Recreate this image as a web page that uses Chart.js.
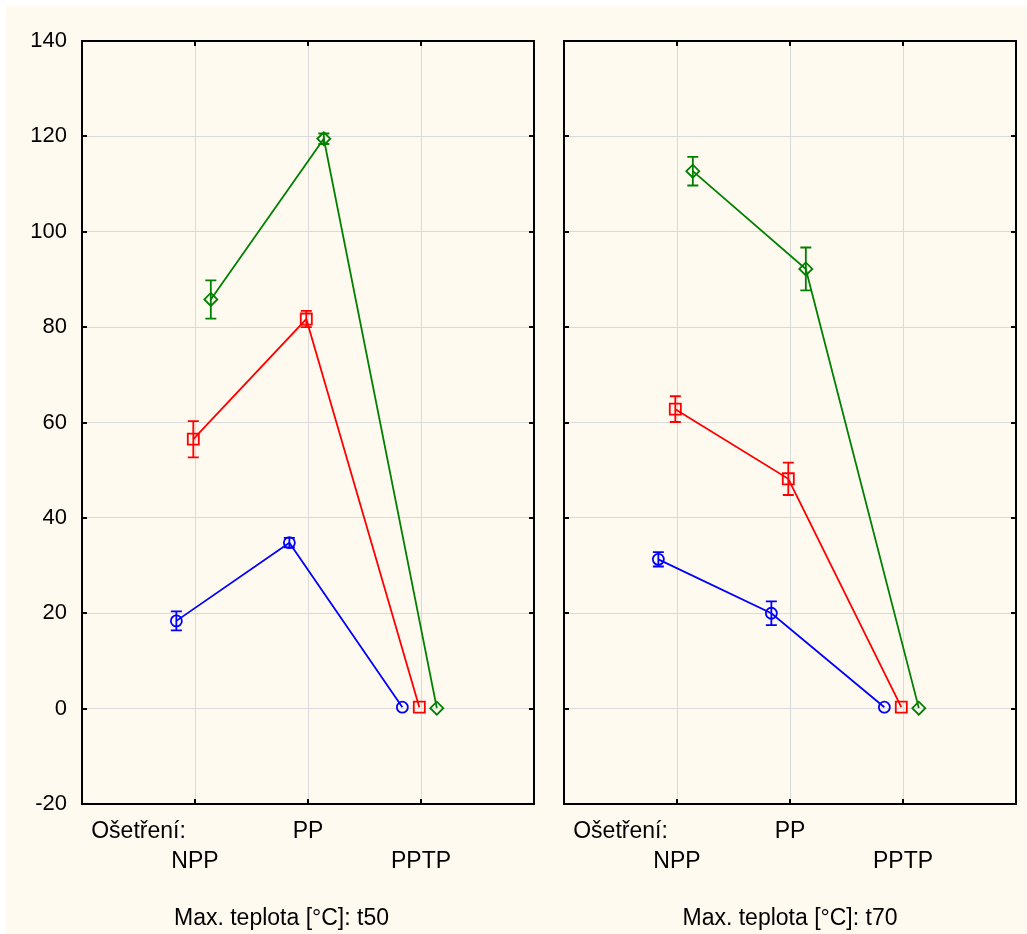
<!DOCTYPE html>
<html lang="cs">
<head>
  <meta charset="UTF-8" />
  <title>Max. teplota – Ošetření</title>
  <script src="https://cdn.jsdelivr.net/npm/chart.js"></script>
  <style>
    html, body { margin: 0; padding: 0; background: #fff; }
    #wrap { position: relative; width: 1027px; height: 934px; overflow: hidden; }
    #bg { position: absolute; left: 6px; top: 6px; right: 0; bottom: 0; background: #fffaf0; }
    canvas { position: absolute; top: 0; }
    #chartT50 { left: 0; }
    #chartT70 { left: 522px; }
  </style>
</head>
<body>
  <div id="wrap">
    <div id="bg"></div>
    <canvas id="chartT50" width="562" height="934"></canvas>
    <canvas id="chartT70" width="505" height="934"></canvas>
  </div>

  <script>
    // categories on the x axis (Ošetření) and y ticks
    const categories = ['NPP', 'PP', 'PPTP'];
    const yMin = -20, yMax = 140, yStep = 20;

    // Max. teplota t50 : means and half-length of the error bars
    const t50Blue = [18.4, 34.8, 0.3];
    const t50BlueErr = [2.0, 1.0, 0];
    const t50Red = [56.5, 81.7, 0.3];
    const t50RedErr = [3.8, 1.7, 0];
    const t50Green = [85.8, 119.5, 0.1];
    const t50GreenErr = [4.0, 1.1, 0];

    // Max. teplota t70
    const t70Blue = [31.3, 20.0, 0.3];
    const t70BlueErr = [1.5, 2.5, 0];
    const t70Red = [62.8, 48.2, 0.3];
    const t70RedErr = [2.7, 3.4, 0];
    const t70Green = [112.7, 92.2, 0.1];
    const t70GreenErr = [3.0, 4.5, 0];

    // per-series look, offset = small shift from the category so markers don't overlap
    const seriesStyle = [
      { color: '#0000ff', pointStyle: 'circle', radius: 5.5, offset: -0.165 },
      { color: '#ff0000', pointStyle: 'rect', radius: 7.8, offset: -0.015 },
      { color: '#008000', pointStyle: 'rectRot', radius: 6.5, offset: 0.14 }
    ];

    Chart.defaults.font.family = '"Liberation Sans", Arial, sans-serif';
    Chart.defaults.color = '#000';

    // black frame with short inner tick marks
    const framePlugin = {
      id: 'frame',
      beforeDatasetsDraw(chart) {
        const { ctx, chartArea: a, scales: { x, y } } = chart;
        ctx.save();
        ctx.strokeStyle = '#000';
        ctx.lineWidth = 2;
        ctx.strokeRect(a.left, a.top, a.right - a.left, a.bottom - a.top);
        ctx.beginPath();
        y.ticks.forEach(t => {
          const py = Math.round(y.getPixelForValue(t.value));
          ctx.moveTo(a.left, py); ctx.lineTo(a.left + 5, py);
          ctx.moveTo(a.right, py); ctx.lineTo(a.right - 5, py);
        });
        categories.forEach((c, i) => {
          const px = Math.round(x.getPixelForValue(i + 1));
          ctx.moveTo(px, a.top); ctx.lineTo(px, a.top + 5);
          ctx.moveTo(px, a.bottom); ctx.lineTo(px, a.bottom - 5);
        });
        ctx.stroke();
        ctx.restore();
      }
    };

    // vertical error bars with caps
    const errorBarPlugin = {
      id: 'errorBars',
      afterDatasetsDraw(chart) {
        const { ctx, scales: { x, y } } = chart;
        ctx.save();
        chart.data.datasets.forEach(ds => {
          ctx.strokeStyle = ds.borderColor;
          ctx.lineWidth = 1.8;
          ds.data.forEach((p, i) => {
            const e = ds.errors[i];
            if (!e) return;
            const px = x.getPixelForValue(p.x);
            const top = y.getPixelForValue(p.y + e);
            const bot = y.getPixelForValue(p.y - e);
            ctx.beginPath();
            ctx.moveTo(px, top); ctx.lineTo(px, bot);
            ctx.moveTo(px - 5.5, top); ctx.lineTo(px + 5.5, top);
            ctx.moveTo(px - 5.5, bot); ctx.lineTo(px + 5.5, bot);
            ctx.stroke();
          });
        });
        ctx.restore();
      }
    };

    function makeDataset(values, errors, style) {
      return {
        data: categories.map((c, i) => ({ x: i + 1 + style.offset, y: values[i] })),
        errors: errors,
        showLine: true,
        borderColor: style.color,
        borderWidth: 1.8,
        backgroundColor: 'rgba(0,0,0,0)',
        pointStyle: style.pointStyle,
        pointRadius: style.radius,
        pointHoverRadius: style.radius,
        pointBorderWidth: 1.8,
        pointBorderColor: style.color,
        pointBackgroundColor: 'rgba(0,0,0,0)'
      };
    }

    function makeChart(id, title, series, showYLabels, padLeft, yWidth, padRight) {
      const ctx = document.getElementById(id).getContext('2d');
      return new Chart(ctx, {
        type: 'scatter',
        data: {
          datasets: series.map((s, k) => makeDataset(s[0], s[1], seriesStyle[k]))
        },
        options: {
          responsive: false,
          animation: false,
          layout: { padding: { top: 41, right: padRight, left: padLeft, bottom: 0 } },
          plugins: {
            legend: { display: false },
            tooltip: { enabled: false },
            title: {
              display: true,
              position: 'bottom',
              text: title,
              color: '#000',
              font: { size: 23, weight: 'normal', lineHeight: '26px' },
              padding: { top: 11, bottom: 2 }
            }
          },
          scales: {
            x: {
              type: 'linear',
              min: 0,
              max: 4,
              border: { display: false },
              grid: {
                drawTicks: false,
                lineWidth: 1,
                color: c => (c.tick && c.tick.value === 0.5) ? 'rgba(0,0,0,0)' : '#dadada'
              },
              afterBuildTicks: s => {
                s.ticks = [0.5, 1, 2, 3].map(v => ({ value: v }));
              },
              afterFit: s => { s.height = 91; },
              ticks: {
                autoSkip: false,
                maxRotation: 0,
                minRotation: 0,
                padding: 13,
                color: '#000',
                font: { size: 23, lineHeight: '30px' },
                callback: v => {
                  if (v === 0.5) return 'Ošetření:';
                  const i = v - 1;
                  return i % 2 === 0 ? ['', categories[i]] : categories[i];
                }
              }
            },
            y: {
              min: yMin,
              max: yMax,
              border: { display: false },
              grid: { drawTicks: false, color: '#dadada', lineWidth: 1 },
              afterFit: s => { s.width = yWidth; },
              ticks: {
                display: showYLabels,
                stepSize: yStep,
                padding: 15,
                color: '#000',
                font: { size: 22 }
              }
            }
          }
        },
        plugins: [framePlugin, errorBarPlugin]
      });
    }

    // left panel: chart area 82..534, title centred near x=281
    makeChart('chartT50', 'Max. teplota [°C]: t50',
      [[t50Blue, t50BlueErr], [t50Red, t50RedErr], [t50Green, t50GreenErr]],
      true, 29, 53, 28);

    // right panel: chart area 564..1016, title centred on the plot (x=790)
    makeChart('chartT70', 'Max. teplota [°C]: t70',
      [[t70Blue, t70BlueErr], [t70Red, t70RedErr], [t70Green, t70GreenErr]],
      false, 42, 0, 11);
  </script>
</body>
</html>
